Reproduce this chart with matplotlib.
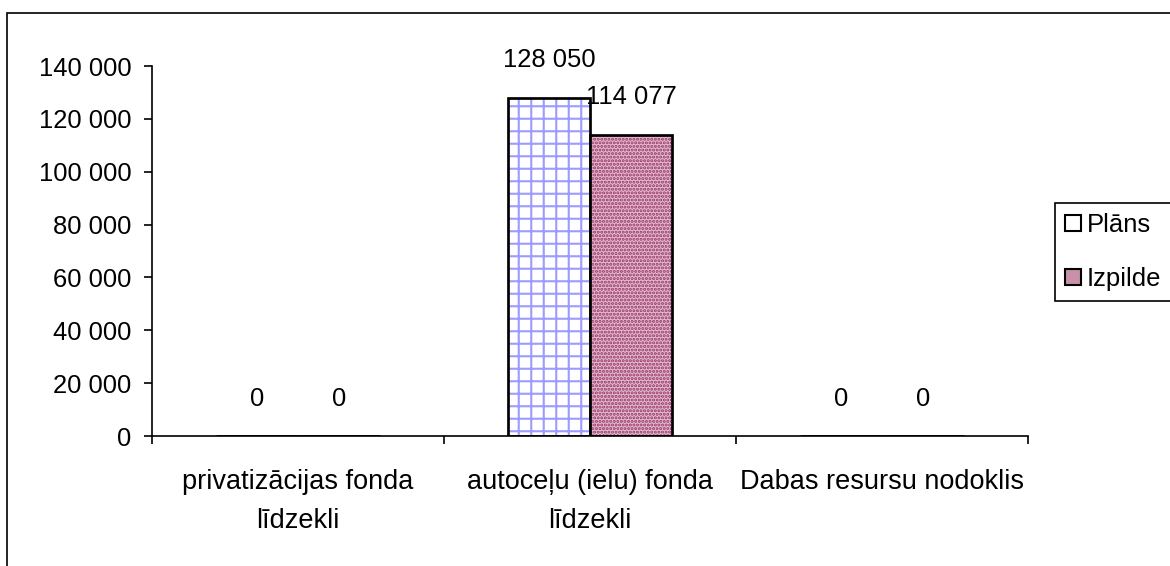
import numpy as np
import matplotlib.pyplot as plt
from matplotlib.patches import Rectangle
from matplotlib.ticker import FuncFormatter

# data
categories = ["privatizācijas fonda\nlīdzekli", "autoceļu (ielu) fonda\nlīdzekli", "Dabas resursu nodoklis"]
plans = [0, 128050, 0]
izpilde = [0, 114077, 0]
series_names = ["Plāns", "Izpilde"]

plt.rcParams['font.family'] = ['Liberation Sans', 'DejaVu Sans']
plt.rcParams['hatch.linewidth'] = 1.0

fig = plt.figure(figsize=(7.8, 566 / 150), dpi=150)
ax = fig.add_axes([152 / 1170, 1 - 436 / 566, (1028 - 152) / 1170, (436 - 66) / 566])

x = np.arange(len(categories))
w = 0.281
grid_col = '#9c9cff'
dot_col = '#993366'
pink = '#e2bccf'

# Plāns: white with blue grid, black outline
ax.bar(x - w / 2, plans, w, color='white', edgecolor=grid_col, hatch='++', linewidth=0)
ax.bar(x - w / 2, plans, w, fill=False, edgecolor='black', linewidth=1.3)
# Izpilde: fine dotted mauve
ax.bar(x + w / 2, izpilde, w, color=pink, edgecolor=dot_col, hatch='.......', linewidth=0)
ax.bar(x + w / 2, izpilde, w, fill=False, edgecolor='black', linewidth=1.3)

fmt = lambda v: f"{int(v):,}".replace(",", " ")
for xs, vals in ((x - w / 2, plans), (x + w / 2, izpilde)):
    for xi, v in zip(xs, vals):
        ax.annotate(fmt(v), (xi, v), xytext=(0, 18), textcoords='offset points',
                    ha='center', va='center', fontsize=12.3)

ax.set_xlim(-0.5, 2.5)
ax.set_ylim(0, 140000)
ax.set_yticks(np.arange(0, 140001, 20000))
ax.yaxis.set_major_formatter(FuncFormatter(lambda v, p: fmt(v)))
ax.tick_params(axis='y', labelsize=12.3, length=4, width=0.8, pad=6)

ax.set_xticks([-0.5, 0.5, 1.5, 2.5])
ax.set_xticklabels([])
ax.set_xticks(x, minor=True)
ax.set_xticklabels(categories, minor=True, fontsize=13, linespacing=1.65)
ax.tick_params(axis='x', which='major', length=4, width=0.8)
ax.tick_params(axis='x', which='minor', length=0, pad=16)

for s in ('top', 'right'):
    ax.spines[s].set_visible(False)
for s in ('left', 'bottom'):
    ax.spines[s].set_linewidth(0.8)

# legend
p1 = Rectangle((0, 0), 1, 1, facecolor='white', edgecolor='black', linewidth=1)
p2 = Rectangle((0, 0), 1, 1, facecolor='#c890aa', edgecolor='black', linewidth=1)
leg = fig.legend([p1, p2], series_names, loc='center left',
                 bbox_to_anchor=(1055 / 1170, 1 - 252 / 566),
                 prop={'size': 12.3},
                 fancybox=False, edgecolor='black', framealpha=1,
                 handlelength=0.6, handleheight=0.6, handletextpad=0.25,
                 labelspacing=1.15, borderpad=0.4, borderaxespad=0)
leg.get_frame().set_linewidth(0.8)

# outer chart frame (only left/top visible)
fig.add_artist(Rectangle((7 / 1170, -0.05), 1.1, 1 - 13 / 566 + 0.05,
                         transform=fig.transFigure, fill=False,
                         edgecolor='black', linewidth=0.8))

fig.savefig("out.png", dpi=150)
